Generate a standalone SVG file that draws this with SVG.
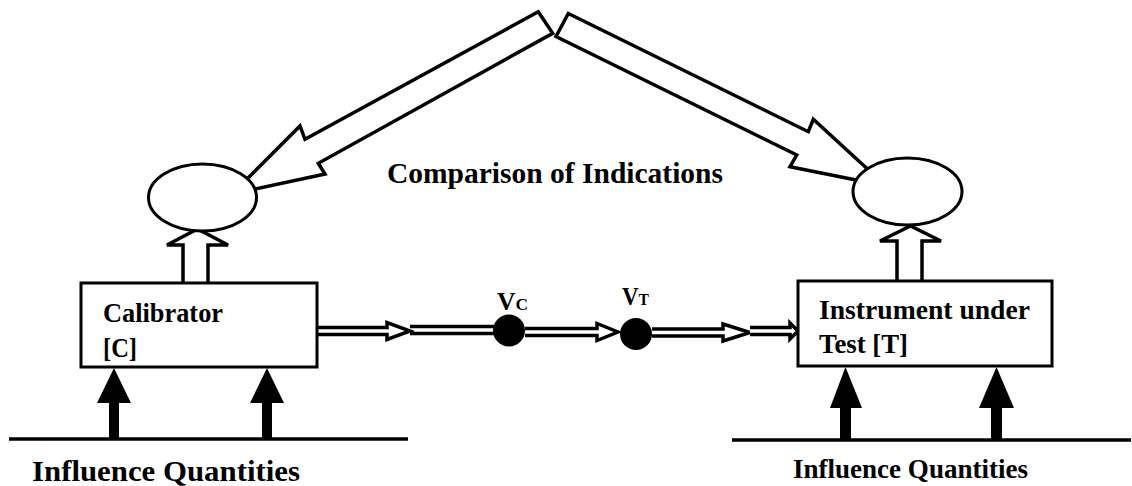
<svg xmlns="http://www.w3.org/2000/svg" width="1132" height="486" viewBox="0 0 1132 486">
<style>
.t{font-family:"Liberation Serif","Times New Roman",serif;font-weight:bold;fill:#000}
.ln{fill:none;stroke:#000;stroke-width:3.5}
.hol{fill:#fff;stroke:#000;stroke-width:3.5;stroke-linejoin:miter}
.big{fill:#fff;stroke:#000;stroke-width:3.5;stroke-linejoin:miter}
.box{fill:#fff;stroke:#000;stroke-width:3}
.blk{fill:#000;stroke:none}
</style>
<rect width="1132" height="486" fill="#fff"/>
<g id="connectors">
  <polygon class="big" points="538.3,11.7 305,139.3 300,126 232,194 325,174 318.3,163.3 552.7,33.3"/>
  <polygon class="big" points="568.3,13.5 808.3,131.7 813.3,119.3 886,186 790,166.7 796.7,155 556,36.5"/>
  <path class="hol" d="M183,283 V245 H167 L197.5,229 L228,245 H208 V283"/>
  <path class="hol" d="M897,281 V241 H880 L910.5,226 L941,241 H922 V281"/>
  <path class="hol" d="M317,327.5 H387 V322.5 L410,331 L387,339.5 V334.5 H317"/>
  <path class="ln" d="M410,326.5 H494 M410,333.5 H494"/>
  <path class="hol" d="M525,328.5 H597 V323.5 L618,332 L597,340.5 V335.5 H525"/>
  <path class="hol" d="M652,329 H723 V324 L750,332.5 L723,341 V336 H652"/>
  <path class="hol" d="M750,327.5 H790 V323 L798,331 L790,339 V334.5 H750"/>
  <path class="ln" d="M9,439 H408"/>
  <path class="ln" d="M732,440 H1131"/>
  <polygon class="blk" points="109,439 109,403 97,403 114,368 131,403 119,403 119,439"/>
  <polygon class="blk" points="262,439 262,403 250,403 267,368 284,403 272,403 272,439"/>
  <polygon class="blk" points="840,440 840,408 830,408 845.5,367 862,408 851,408 851,440"/>
  <polygon class="blk" points="991,440 991,408 979,408 996.5,367 1014,408 1002,408 1002,440"/>
</g>
<g id="left-display">
  <ellipse class="box" cx="202.5" cy="197.5" rx="54" ry="33.5"/>
</g>
<g id="right-display">
  <ellipse class="box" cx="907.5" cy="191.5" rx="54.5" ry="33.5"/>
</g>
<g id="calibrator">
  <rect class="box" x="81" y="283" width="236" height="84"/>
  <text class="t" x="103" y="322" font-size="28" textLength="120" lengthAdjust="spacingAndGlyphs">Calibrator</text>
  <text class="t" x="103" y="357" font-size="28" textLength="34" lengthAdjust="spacingAndGlyphs">[C]</text>
</g>
<g id="instrument">
  <rect class="box" x="798" y="281" width="254" height="85"/>
  <text class="t" x="819" y="319" font-size="28" textLength="211" lengthAdjust="spacingAndGlyphs">Instrument under</text>
  <text class="t" x="819" y="353" font-size="28" textLength="89" lengthAdjust="spacingAndGlyphs">Test [T]</text>
</g>
<g id="vc">
  <circle cx="509" cy="330.5" r="16" fill="#000"/>
  <text class="t" x="497" y="310" font-size="25" textLength="31" lengthAdjust="spacingAndGlyphs">V<tspan font-size="17">C</tspan></text>
</g>
<g id="vt">
  <circle cx="636" cy="334" r="16" fill="#000"/>
  <text class="t" x="622" y="305" font-size="25" textLength="27" lengthAdjust="spacingAndGlyphs">V<tspan font-size="17">T</tspan></text>
</g>
<g id="labels">
  <text class="t" x="387" y="183" font-size="29" textLength="336" lengthAdjust="spacingAndGlyphs">Comparison of Indications</text>
  <text class="t" x="32" y="481" font-size="30" textLength="268" lengthAdjust="spacingAndGlyphs">Influence Quantities</text>
  <text class="t" x="793" y="478" font-size="27" textLength="235" lengthAdjust="spacingAndGlyphs">Influence Quantities</text>
</g>
</svg>
